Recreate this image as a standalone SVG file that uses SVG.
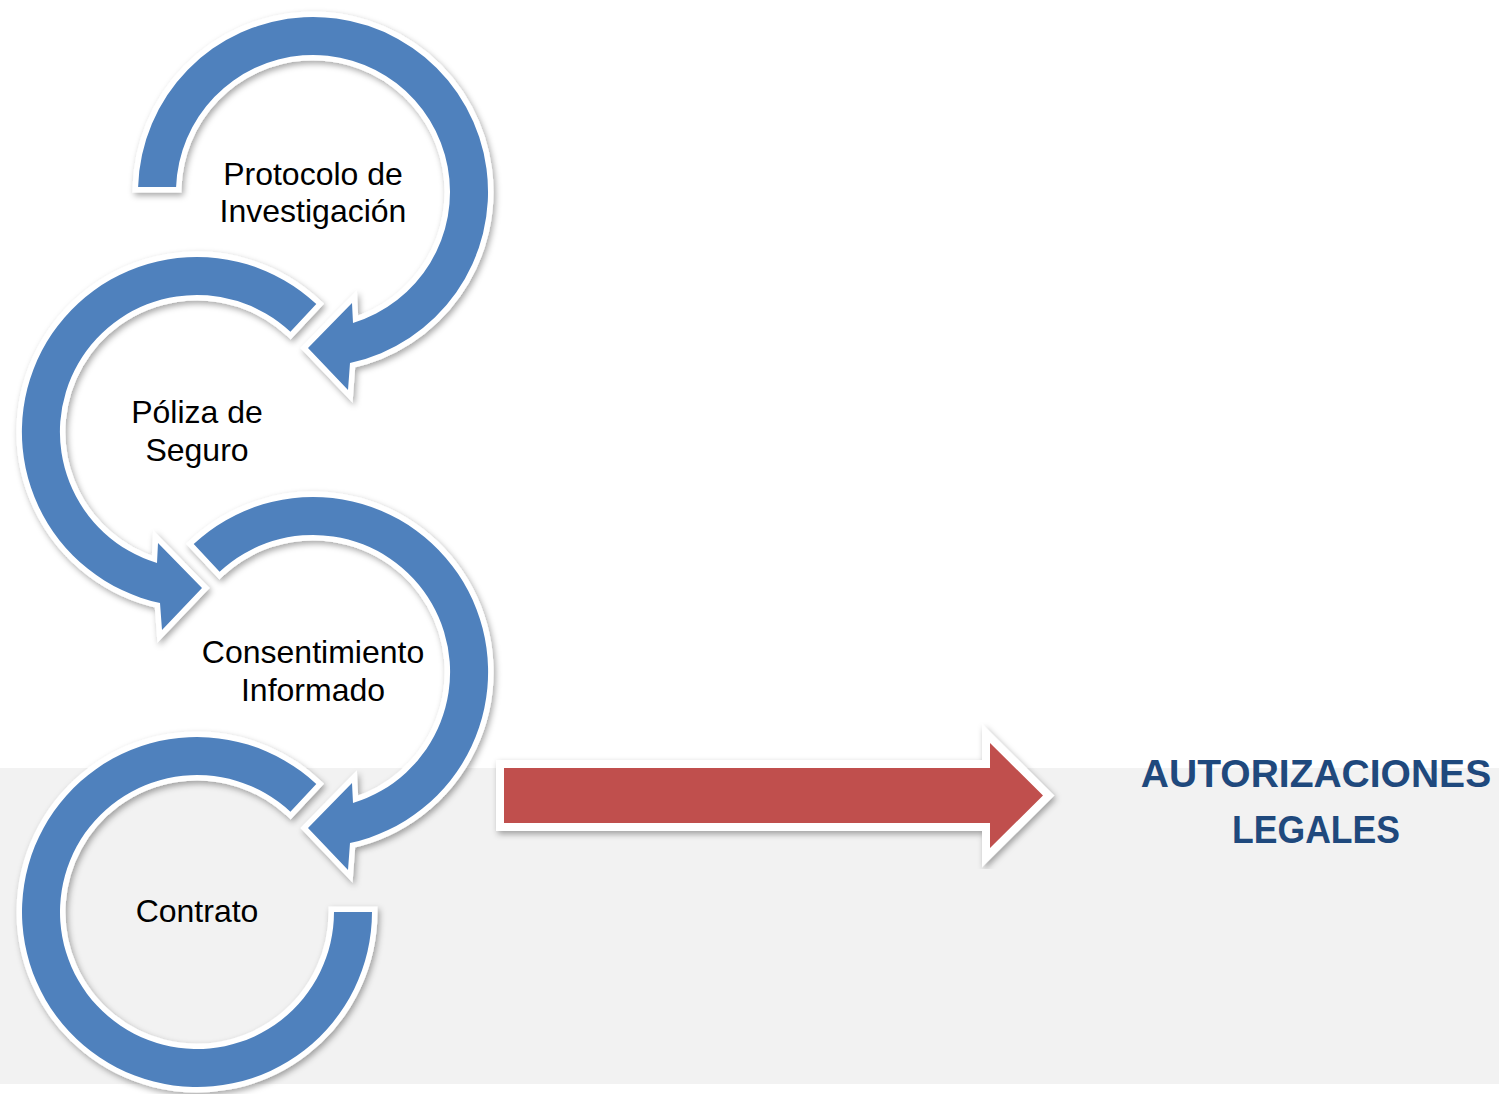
<svg xmlns="http://www.w3.org/2000/svg" width="1499" height="1094" viewBox="0 0 1499 1094">
  <defs>
    <filter id="sh" x="-20%" y="-20%" width="140%" height="140%">
      <feDropShadow dx="2" dy="3" stdDeviation="3" flood-color="#000" flood-opacity="0.35"/>
    </filter>
    <style>
      .ring { fill: #4F81BD; stroke: #FFFFFF; stroke-width: 11; paint-order: stroke; stroke-linejoin: miter; filter: url(#sh); }
      .big { fill: #C0504D; stroke: #FFFFFF; stroke-width: 16; paint-order: stroke; stroke-linejoin: miter; stroke-miterlimit: 10; filter: url(#sh); }
      .lbl { font-family: "Liberation Sans", Arial, sans-serif; font-size: 32px; fill: #000000; text-anchor: middle; }
      .res { font-family: "Liberation Sans", Arial, sans-serif; font-size: 39px; font-weight: bold; fill: #1F497D; text-anchor: middle; }
    </style>
  </defs>
  <rect x="0" y="0" width="1499" height="1094" fill="#FFFFFF"/>
  <rect x="0" y="768" width="1499" height="316" fill="#F2F2F2"/>

  <g id="node-protocolo">
    <path class="ring" d="M 138.1 187 A 175 175 0 1 1 350 363 L 348 390 L 308 348 L 352 303 L 353 323 A 137 137 0 1 0 176.1 187 Z"/>
    <text class="lbl" x="313" y="185">Protocolo de</text>
    <text class="lbl" x="313" y="222">Investigación</text>
  </g>

  <g id="node-poliza">
    <path class="ring" d="M 316.3 304 A 175 175 0 1 0 160 603 L 162 630 L 202 588 L 158 543 L 157 563 A 137 137 0 1 1 290.4 331.8 Z"/>
    <text class="lbl" x="197" y="423">Póliza de</text>
    <text class="lbl" x="197" y="461">Seguro</text>
  </g>

  <g id="node-consentimiento">
    <path class="ring" d="M 193.7 544 A 175 175 0 1 1 350 843 L 348 870 L 308 828 L 352 783 L 353 803 A 137 137 0 1 0 219.6 571.8 Z"/>
    <text class="lbl" x="313" y="663">Consentimiento</text>
    <text class="lbl" x="313" y="701">Informado</text>
  </g>

  <g id="node-contrato">
    <path class="ring" d="M 316.3 784 A 175 175 0 1 0 372 912 L 334 912 A 137 137 0 1 1 290.4 811.8 Z"/>
    <text class="lbl" x="197" y="922">Contrato</text>
  </g>

  <g id="connectors">
    <path class="big" d="M 504 768 L 990 768 L 990 743 L 1043 795.5 L 990 848 L 990 823 L 504 823 Z"/>
  </g>

  <g id="node-autorizaciones">
    <text class="res" x="1316" y="787">AUTORIZACIONES</text>
    <text class="res" x="1316" y="843" textLength="168" lengthAdjust="spacingAndGlyphs">LEGALES</text>
  </g>
</svg>
